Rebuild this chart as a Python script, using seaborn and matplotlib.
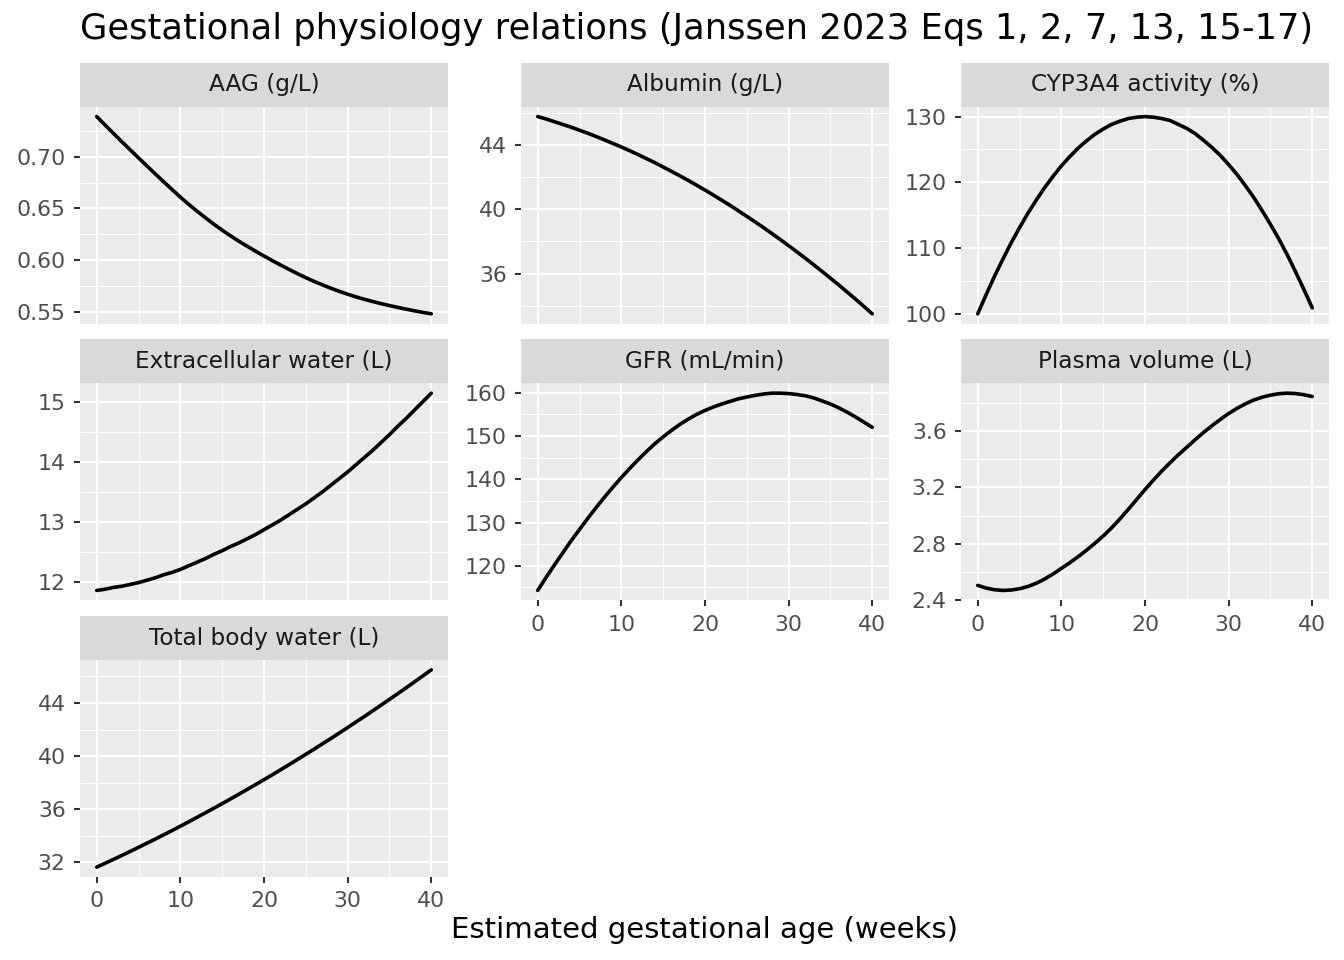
import numpy as np
import pandas as pd
import matplotlib
matplotlib.use("Agg")
import matplotlib.pyplot as plt
from matplotlib.ticker import MultipleLocator, FormatStrFormatter
import seaborn as sns

# ---- data (one value per week) ----
weeks = list(range(0, 41))

aag = [0.7390, 0.7308, 0.7227, 0.7147, 0.7068, 0.6990, 0.6912, 0.6835, 0.6759, 0.6684, 0.6610,
       0.6540, 0.6474, 0.6410, 0.6348, 0.6290, 0.6235, 0.6183, 0.6134, 0.6086, 0.6040,
       0.5995, 0.5952, 0.5910, 0.5869, 0.5830, 0.5794, 0.5760, 0.5728, 0.5698, 0.5670,
       0.5644, 0.5621, 0.5599, 0.5579, 0.5560, 0.5542, 0.5525, 0.5509, 0.5494, 0.5480]
albumin = [45.75, 45.60, 45.43, 45.26, 45.09, 44.90, 44.71, 44.51, 44.30, 44.08, 43.86,
           43.63, 43.39, 43.14, 42.89, 42.62, 42.35, 42.07, 41.79, 41.49, 41.19,
           40.88, 40.56, 40.24, 39.90, 39.56, 39.21, 38.86, 38.49, 38.12, 37.74,
           37.35, 36.96, 36.55, 36.14, 35.72, 35.30, 34.86, 34.42, 33.97, 33.51]
cyp3a4 = [100.0, 102.9, 105.7, 108.3, 110.8, 113.1, 115.3, 117.3, 119.2, 120.9, 122.5,
          123.9, 125.2, 126.3, 127.3, 128.1, 128.8, 129.3, 129.7, 129.9, 130.0,
          129.9, 129.7, 129.4, 128.8, 128.2, 127.4, 126.4, 125.3, 124.1, 122.7,
          121.2, 119.5, 117.7, 115.7, 113.6, 111.4, 109.0, 106.4, 103.7, 100.9]
ecw = [11.86, 11.88, 11.91, 11.93, 11.96, 11.99, 12.03, 12.07, 12.12, 12.16, 12.21,
       12.27, 12.33, 12.39, 12.46, 12.52, 12.59, 12.65, 12.72, 12.79, 12.87,
       12.95, 13.03, 13.12, 13.21, 13.30, 13.40, 13.50, 13.61, 13.72, 13.83,
       13.95, 14.07, 14.19, 14.32, 14.45, 14.59, 14.72, 14.86, 15.00, 15.14]
gfr = [114.3, 117.3, 120.2, 123.0, 125.8, 128.4, 131.0, 133.5, 135.9, 138.2, 140.4,
       142.5, 144.5, 146.4, 148.2, 149.8, 151.3, 152.7, 153.9, 155.0, 155.9,
       156.7, 157.4, 158.0, 158.6, 159.0, 159.4, 159.7, 159.9, 159.9, 159.8,
       159.6, 159.3, 158.8, 158.1, 157.4, 156.5, 155.5, 154.4, 153.2, 152.0]
plasma = [2.503, 2.484, 2.472, 2.467, 2.470, 2.479, 2.495, 2.518, 2.548, 2.584, 2.624,
          2.664, 2.707, 2.753, 2.802, 2.854, 2.912, 2.976, 3.044, 3.114, 3.185,
          3.252, 3.316, 3.376, 3.433, 3.486, 3.540, 3.591, 3.639, 3.684, 3.726,
          3.763, 3.795, 3.822, 3.842, 3.857, 3.867, 3.871, 3.868, 3.860, 3.847]
tbw = [31.65, 31.94, 32.23, 32.53, 32.83, 33.14, 33.45, 33.76, 34.08, 34.40, 34.73,
       35.06, 35.40, 35.74, 36.08, 36.43, 36.78, 37.14, 37.50, 37.86, 38.23,
       38.60, 38.98, 39.36, 39.75, 40.14, 40.53, 40.93, 41.33, 41.74, 42.15,
       42.57, 42.98, 43.41, 43.84, 44.27, 44.70, 45.14, 45.59, 46.04, 46.49]

panel_names = ["AAG (g/L)", "Albumin (g/L)", "CYP3A4 activity (%)",
               "Extracellular water (L)", "GFR (mL/min)", "Plasma volume (L)",
               "Total body water (L)"]
panel_values = [aag, albumin, cyp3a4, ecw, gfr, plasma, tbw]
y_steps = [0.05, 4, 10, 1, 10, 0.4, 4]
y_formats = ["%.2f", "%d", "%d", "%d", "%d", "%.1f", "%d"]

title = "Gestational physiology relations (Janssen 2023 Eqs 1, 2, 7, 13, 15-17)"
xlabel = "Estimated gestational age (weeks)"

df = pd.concat([pd.DataFrame({"week": weeks, "value": v, "panel": n})
                for n, v in zip(panel_names, panel_values)], ignore_index=True)

# ---- layout ----
sns.set_style("white")
plt.rcParams["font.family"] = ["DejaVu Sans"]
W, H = 1344, 960
fig = plt.figure(figsize=(W / 100, H / 100), dpi=100)
fig.patch.set_facecolor("white")

col_left = [80, 521, 961]
panel_w = 368
row_top = [106.7, 383.3, 660.0]
panel_h = 217
strip_h = 44

def frac_rect(x, y_top, w, h):
    return [x / W, 1 - (y_top + h) / H, w / W, h / H]

bottom_panels = {"GFR (mL/min)", "Plasma volume (L)", "Total body water (L)"}
tick_kw = dict(length=4.3, width=1.5, color="#333333", labelsize=15.8,
               labelcolor="#4D4D4D", pad=6.0)

for i, name in enumerate(panel_names):
    r, c = divmod(i, 3)
    ax = fig.add_axes(frac_rect(col_left[c], row_top[r], panel_w, panel_h))
    sax = fig.add_axes(frac_rect(col_left[c], row_top[r] - strip_h, panel_w, strip_h))
    sax.set_facecolor("#D9D9D9")
    sax.set_xticks([]); sax.set_yticks([])
    for s in sax.spines.values():
        s.set_visible(False)
    sax.text(0.5, 0.5, name, ha="center", va="center", fontsize=16.7, color="#1A1A1A",
             transform=sax.transAxes)

    sub = df[df["panel"] == name]
    sns.lineplot(data=sub, x="week", y="value", ax=ax, color="black", linewidth=2.6,
                 estimator=None, sort=False)
    ax.set_facecolor("#EBEBEB")
    for s in ax.spines.values():
        s.set_visible(False)
    ax.set_xlim(-2, 42)
    lo, hi = sub["value"].min(), sub["value"].max()
    pad = (hi - lo) * 0.05
    ax.set_ylim(lo - pad, hi + pad)
    step = y_steps[i]
    ax.yaxis.set_major_locator(MultipleLocator(step))
    ax.yaxis.set_minor_locator(MultipleLocator(step / 2))
    ax.yaxis.set_major_formatter(FormatStrFormatter(y_formats[i]))
    ax.xaxis.set_major_locator(MultipleLocator(10))
    ax.xaxis.set_minor_locator(MultipleLocator(5))
    ax.grid(True, which="major", color="white", linewidth=1.5)
    ax.grid(True, which="minor", color="white", linewidth=0.75)
    ax.set_axisbelow(True)
    ax.tick_params(which="minor", length=0)
    ax.tick_params(axis="y", which="major", left=True, **tick_kw)
    if name in bottom_panels:
        ax.tick_params(axis="x", which="major", bottom=True, **tick_kw)
    else:
        ax.tick_params(axis="x", which="both", bottom=False, labelbottom=False)
    ax.set_xlabel("")
    ax.set_ylabel("")

fig.text(80 / W, 1 - 29 / H, title, ha="left", va="center", fontsize=25.4, color="black")
fig.text(704.5 / W, 1 - 930 / H, xlabel, ha="center", va="center", fontsize=21,
         color="black")

fig.savefig("out.png", dpi=100, facecolor="white")
